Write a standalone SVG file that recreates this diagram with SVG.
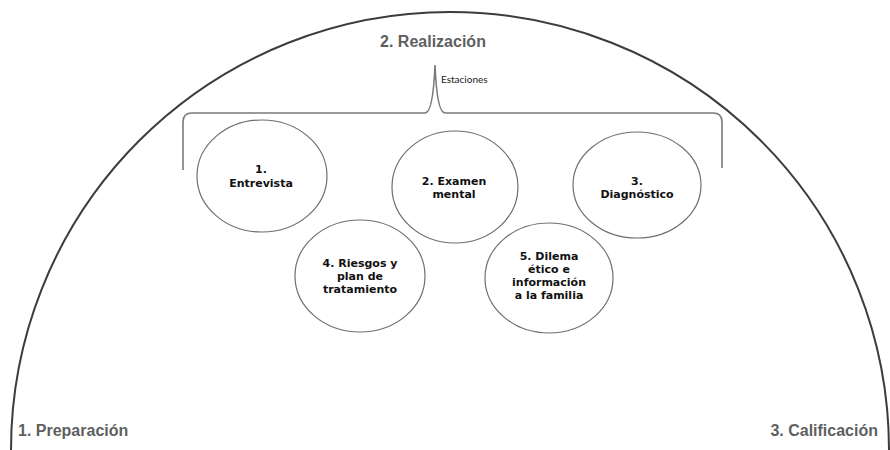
<svg xmlns="http://www.w3.org/2000/svg" width="890" height="450" viewBox="0 0 890 450">
<style>
.arc{fill:none;stroke:#3c3c3c;stroke-width:2}
.brace{fill:none;stroke:#7a7a7a;stroke-width:1.6}
.node ellipse{fill:#fff;stroke:#6e6e6e;stroke-width:1.2}
.node text{font-family:"DejaVu Sans",Verdana,sans-serif;font-weight:bold;font-size:11px;fill:#111;text-anchor:middle}
.phase{font-family:"Liberation Sans",Arial,sans-serif;font-weight:bold;font-size:16px;fill:#5f5f5f}
.small{font-family:Lato,"Open Sans","Liberation Sans",sans-serif;font-size:10px;fill:#222}
</style>
<rect width="890" height="450" fill="#fff"/>
<g id="connectors">
<path class="arc" d="M11,450 A439,438 0 0 1 889,450"/>
<path class="brace" d="M183,170 L183,122 Q183,113 192,113 L425,113 Q433,113 435,65 Q437,113 445,113 L713,113 Q722,113 722,122 L722,168"/>
</g>
<g id="phase1"><text class="phase" x="18" y="436">1. Preparación</text></g>
<g id="phase2"><text class="phase" x="433" y="47" text-anchor="middle" font-size="15.5">2. Realización</text>
<text class="small" x="441" y="83">Estaciones</text></g>
<g id="phase3"><text class="phase" x="878" y="436" text-anchor="end">3. Calificación</text></g>
<g id="n1" class="node"><ellipse cx="262" cy="176" rx="65" ry="56"/>
<text x="261" y="173">1.</text><text x="261" y="187">Entrevista</text></g>
<g id="n2" class="node"><ellipse cx="455" cy="187" rx="63" ry="56"/>
<text x="454" y="185">2. Examen</text><text x="454" y="198">mental</text></g>
<g id="n3" class="node"><ellipse cx="637" cy="185" rx="64" ry="53"/>
<text x="637" y="185">3.</text><text x="637" y="198">Diagnóstico</text></g>
<g id="n4" class="node"><ellipse cx="360" cy="276" rx="65" ry="56"/>
<text x="360" y="267">4. Riesgos y</text><text x="360" y="280">plan de</text><text x="360" y="293">tratamiento</text></g>
<g id="n5" class="node"><ellipse cx="549" cy="278" rx="64" ry="55"/>
<text x="549" y="260">5. Dilema</text><text x="549" y="273">ético e</text><text x="549" y="286">información</text><text x="549" y="299">a la familia</text></g>
</svg>
